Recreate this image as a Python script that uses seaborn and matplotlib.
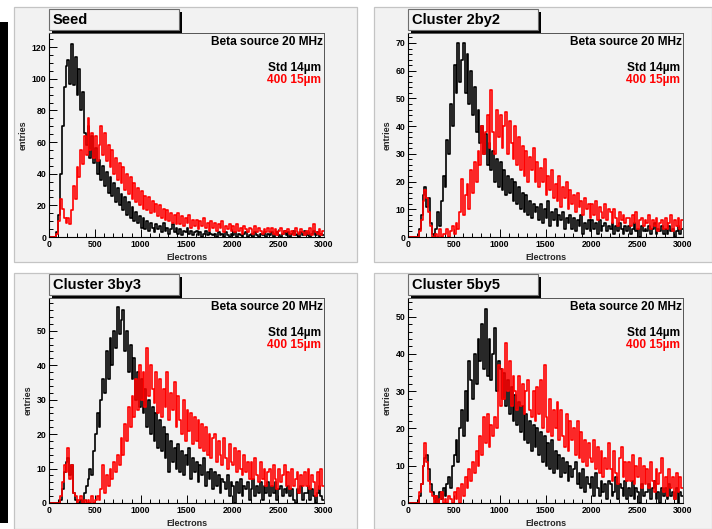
import numpy as np
import pandas as pd
import matplotlib
matplotlib.use("Agg")
import matplotlib.pyplot as plt
from matplotlib.patches import Rectangle
from matplotlib.ticker import MultipleLocator
import seaborn as sns

# ---------------- data (entries per 20-electron bin, 0..3000) ----------------
bin_width = 20
x_max = 3000

seed_std = [
    0, 0, 0, 0, 3, 14, 40, 70, 95, 108,
    112, 97, 122, 96, 114, 90, 106, 80, 92, 66,
    58, 70, 50, 64, 47, 56, 40, 49, 36, 45,
    32, 41, 28, 38, 26, 34, 22, 31, 20, 27,
    17, 25, 14, 22, 12, 19, 10, 16, 9, 13,
    6, 12, 5, 10, 4, 9, 6, 3, 8, 5,
    7, 3, 9, 4, 6, 2, 5, 8, 3, 6,
    2, 5, 1, 4, 3, 6, 2, 4, 1, 3,
    4, 1, 3, 0, 2, 4, 1, 3, 2, 1,
    2, 0, 3, 1, 2, 0, 3, 1, 0, 2,
    1, 3, 0, 2, 1, 0, 2, 3, 0, 1,
    2, 0, 3, 1, 0, 2, 1, 3, 0, 2,
    1, 3, 0, 2, 3, 1, 0, 2, 4, 1,
    3, 0, 2, 4, 1, 2, 0, 3, 1, 4,
    1, 3, 0, 2, 4, 1, 3, 0, 2, 1,
]
seed_400 = [
    0, 0, 0, 0, 2, 10, 24, 18, 12, 9,
    12, 8, 17, 32, 24, 44, 38, 55, 46, 64,
    52, 75, 55, 66, 50, 64, 48, 58, 70, 52,
    66, 48, 58, 44, 55, 40, 50, 36, 47, 34,
    44, 30, 40, 27, 38, 24, 34, 22, 31, 20,
    29, 18, 26, 17, 25, 15, 23, 16, 21, 13,
    20, 12, 18, 11, 17, 10, 15, 9, 14, 8,
    15, 8, 13, 7, 12, 9, 14, 6, 11, 7,
    11, 5, 10, 7, 12, 6, 9, 4, 10, 6,
    9, 4, 8, 6, 10, 3, 7, 5, 8, 4,
    7, 3, 8, 4, 6, 2, 7, 5, 3, 6,
    5, 2, 7, 3, 6, 4, 2, 5, 3, 6,
    3, 6, 2, 5, 1, 4, 6, 2, 4, 3,
    5, 2, 4, 1, 6, 3, 2, 5, 3, 1,
    4, 2, 6, 1, 8, 3, 2, 5, 1, 4,
]
c2_std = [
    0, 0, 0, 0, 0, 0, 3, 8, 15, 18,
    11, 14, 5, 1, 0, 3, 9, 4, 13, 22,
    18, 35, 30, 48, 40, 62, 52, 70, 56, 64,
    70, 52, 66, 48, 60, 44, 54, 38, 46, 34,
    40, 30, 37, 26, 34, 24, 31, 20, 28, 18,
    27, 17, 24, 15, 22, 16, 21, 13, 20, 12,
    18, 10, 16, 9, 15, 8, 13, 7, 12, 9,
    11, 6, 12, 5, 10, 7, 13, 4, 9, 6,
    10, 4, 8, 6, 9, 3, 7, 5, 8, 3,
    7, 2, 6, 4, 8, 1, 5, 3, 6, 2,
    6, 3, 5, 1, 6, 2, 4, 5, 2, 4,
    3, 5, 1, 4, 2, 5, 3, 1, 4, 2,
    4, 1, 3, 5, 2, 3, 0, 4, 2, 3,
    2, 4, 1, 3, 5, 1, 3, 2, 4, 1,
    3, 1, 4, 2, 3, 0, 2, 4, 1, 3,
]
c2_400 = [
    0, 0, 0, 0, 0, 0, 2, 6, 13, 17,
    14, 9, 4, 0, 0, 1, 0, 3, 0, 1,
    1, 3, 0, 2, 4, 1, 5, 3, 9, 21,
    8, 15, 19, 10, 24, 16, 27, 20, 31, 26,
    40, 30, 38, 44, 32, 53, 38, 30, 46, 36,
    44, 32, 40, 45, 30, 42, 34, 28, 40, 26,
    36, 24, 33, 22, 31, 20, 29, 24, 32, 20,
    27, 18, 25, 20, 28, 15, 22, 17, 24, 14,
    19, 13, 22, 11, 18, 14, 20, 10, 17, 12,
    15, 9, 16, 11, 13, 8, 14, 10, 12, 7,
    12, 8, 13, 6, 11, 9, 7, 12, 6, 10,
    9, 5, 10, 7, 4, 9, 6, 8, 5, 7,
    7, 4, 8, 5, 9, 3, 6, 7, 4, 6,
    5, 8, 3, 6, 4, 7, 2, 5, 6, 3,
    7, 3, 5, 8, 2, 6, 4, 7, 3, 6,
]
c3_std = [
    0, 0, 0, 0, 0, 0, 1, 4, 9, 12,
    13, 8, 11, 3, 1, 0, 0, 1, 0, 3,
    5, 7, 10, 8, 15, 20, 26, 22, 30, 36,
    32, 44, 36, 48, 40, 50, 45, 57, 49, 53,
    56, 44, 50, 38, 46, 36, 42, 30, 38, 28,
    36, 26, 33, 22, 30, 20, 28, 18, 26, 16,
    24, 15, 22, 13, 20, 9, 18, 12, 16, 10,
    17, 9, 15, 8, 14, 11, 16, 7, 13, 9,
    12, 6, 11, 8, 13, 5, 9, 7, 10, 4,
    9, 5, 8, 3, 7, 6, 4, 8, 2, 6,
    5, 0, 6, 3, 7, 2, 5, 4, 6, 1,
    4, 7, 2, 5, 3, 6, 1, 5, 3, 6,
    2, 5, 3, 6, 1, 4, 5, 2, 4, 3,
    5, 2, 4, 1, 0, 4, 3, 5, 1, 3,
    3, 5, 1, 4, 2, 0, 3, 5, 2, 1,
]
c3_400 = [
    0, 0, 0, 0, 0, 0, 2, 6, 11, 9,
    16, 7, 11, 3, 2, 0, 1, 2, 0, 1,
    0, 1, 0, 2, 0, 1, 2, 1, 4, 11,
    3, 8, 5, 10, 7, 12, 9, 14, 11, 19,
    14, 23, 18, 28, 22, 31, 25, 36, 27, 40,
    30, 38, 28, 45, 31, 40, 33, 29, 38, 26,
    36, 25, 33, 28, 38, 24, 32, 27, 35, 22,
    31, 24, 20, 30, 18, 27, 21, 26, 17, 25,
    18, 24, 16, 23, 15, 22, 14, 20, 13, 19,
    20, 12, 18, 14, 11, 19, 13, 10, 17, 12,
    11, 16, 9, 15, 10, 8, 14, 9, 12, 7,
    12, 7, 13, 8, 6, 12, 7, 10, 5, 9,
    10, 5, 11, 7, 4, 10, 6, 8, 11, 5,
    9, 4, 10, 5, 7, 9, 3, 8, 5, 9,
    5, 10, 4, 8, 6, 2, 9, 4, 10, 5,
]
c5_std = [
    0, 0, 0, 0, 0, 0, 2, 5, 10, 12,
    13, 9, 5, 3, 1, 2, 0, 3, 1, 4,
    2, 5, 7, 4, 10, 13, 17, 11, 20, 25,
    18, 30, 22, 38, 33, 28, 40, 32, 44, 38,
    48, 36, 52, 34, 44, 33, 40, 47, 30, 38,
    36, 28, 35, 26, 33, 24, 31, 22, 29, 21,
    27, 19, 26, 17, 24, 16, 22, 14, 21, 15,
    20, 13, 19, 11, 18, 10, 16, 9, 17, 8,
    14, 9, 13, 7, 12, 8, 11, 6, 10, 7,
    9, 11, 5, 8, 4, 9, 3, 7, 5, 4,
    7, 2, 8, 4, 2, 6, 3, 5, 1, 6,
    5, 2, 3, 7, 1, 5, 4, 2, 6, 1,
    4, 2, 6, 1, 4, 3, 0, 5, 2, 3,
    3, 5, 1, 4, 6, 1, 3, 0, 4, 2,
    4, 1, 5, 2, 3, 1, 4, 0, 3, 2,
]
c5_400 = [
    0, 0, 0, 0, 0, 0, 3, 5, 10, 16,
    11, 6, 3, 2, 0, 2, 0, 1, 3, 0,
    1, 0, 2, 1, 0, 3, 1, 4, 0, 5,
    2, 7, 4, 9, 6, 11, 8, 14, 10, 18,
    13, 23, 16, 24, 15, 21, 18, 23, 20, 37,
    26, 36, 28, 43, 30, 38, 26, 34, 30, 25,
    34, 26, 32, 24, 30, 33, 25, 23, 30, 22,
    31, 24, 33, 20, 37, 23, 19, 28, 18, 25,
    20, 27, 17, 25, 18, 15, 24, 14, 22, 17,
    20, 13, 22, 12, 19, 11, 17, 10, 16, 12,
    11, 17, 9, 15, 8, 14, 7, 12, 9, 16,
    9, 6, 14, 8, 5, 12, 15, 7, 11, 6,
    11, 6, 13, 5, 10, 7, 12, 4, 10, 5,
    9, 4, 11, 6, 3, 9, 5, 8, 12, 3,
    7, 2, 9, 4, 7, 1, 8, 3, 7, 4,
]

panel_titles = ["Seed", "Cluster 2by2", "Cluster 3by3", "Cluster 5by5"]
series_names = ["Std 14\u00b5m", "400 15\u00b5m"]
info_text = "Beta source 20 MHz"
x_label = "Electrons"
y_label = "entries"

# ---------------- styling ----------------
sns.set_theme(style="white")
plt.rcParams["font.family"] = ["Liberation Sans", "DejaVu Sans"]
plt.rcParams["font.weight"] = "bold"

W, H = 712, 529
fig = plt.figure(figsize=(W / 100, H / 100), dpi=100)
fig.patch.set_facecolor("white")
PAD = "#f2f2f2"

def fx(x):
    return x / W

def fy(y):
    return 1 - y / H

def frect(x0, y0, x1, y1, **kw):
    r = Rectangle((fx(x0), fy(y1)), fx(x1) - fx(x0), fy(y0) - fy(y1),
                  transform=fig.transFigure, **kw)
    fig.patches.append(r)
    return r

# black bar at the left edge
frect(0, 22, 8, 523, facecolor="black", edgecolor="none", zorder=-2)

panels = [
    dict(pad=(14, 7, 357, 262), ax=(49, 33, 324, 237), ylim=129, major=20, minor=5,
         data=(seed_std, seed_400), title=panel_titles[0]),
    dict(pad=(374, 7, 712, 262), ax=(408, 33, 683, 237), ylim=73.6, major=10, minor=2,
         data=(c2_std, c2_400), title=panel_titles[1]),
    dict(pad=(14, 273, 357, 529), ax=(49, 298, 324, 503), ylim=59.5, major=10, minor=2,
         data=(c3_std, c3_400), title=panel_titles[2]),
    dict(pad=(374, 273, 712, 529), ax=(408, 298, 683, 503), ylim=55, major=10, minor=2,
         data=(c5_std, c5_400), title=panel_titles[3]),
]

edges = np.arange(0, x_max + bin_width, bin_width)
centers = edges[:-1] + bin_width / 2

for p in panels:
    x0, y0, x1, y1 = p["pad"]
    frect(x0, y0, x1, y1, facecolor=PAD, edgecolor="#c4c4c4", linewidth=0.9, zorder=-1)

    ax0, ay0, ax1, ay1 = p["ax"]
    ax = fig.add_axes([fx(ax0), fy(ay1), fx(ax1) - fx(ax0), fy(ay0) - fy(ay1)])
    ax.set_zorder(1)
    ax.set_facecolor(PAD)

    for vals, col in zip(p["data"], ["black", "red"]):
        df = pd.DataFrame({"electrons": centers, "entries": np.asarray(vals, float)})
        sns.histplot(data=df, x="electrons", weights="entries", binwidth=bin_width,
                     binrange=(0, x_max), element="step", fill=False,
                     color=col, linewidth=1.2, ax=ax)

    ax.set_xlim(0, x_max)
    ax.set_ylim(0, p["ylim"])
    ax.xaxis.set_major_locator(MultipleLocator(500))
    ax.xaxis.set_minor_locator(MultipleLocator(100))
    ax.yaxis.set_major_locator(MultipleLocator(p["major"]))
    ax.yaxis.set_minor_locator(MultipleLocator(p["minor"]))
    ax.tick_params(which="both", direction="in", bottom=True, left=True, top=False,
                   right=False, colors="black", labelsize=6.3, pad=2)
    ax.tick_params(which="major", length=6, width=0.7)
    ax.tick_params(which="minor", length=3, width=0.7)
    for lab in ax.get_xticklabels() + ax.get_yticklabels():
        lab.set_fontweight("bold")
    for s in ["left", "bottom"]:
        ax.spines[s].set_color("black")
        ax.spines[s].set_linewidth(0.8)
    for s in ["top", "right"]:
        ax.spines[s].set_color("#555555")
        ax.spines[s].set_linewidth(0.7)
    ax.set_xlabel(x_label, fontsize=6.5, fontweight="bold", labelpad=3)
    ax.set_ylabel(y_label, fontsize=6.5, fontweight="bold", labelpad=3)
    ax.grid(False)

    # texts inside the frame
    ax.text(0.997, 0.955, info_text, transform=ax.transAxes, ha="right", va="center",
            fontsize=8.6, fontweight="bold", color="black")
    ax.text(0.99, 0.828, series_names[0], transform=ax.transAxes, ha="right", va="center",
            fontsize=8.6, fontweight="bold", color="black")
    ax.text(0.99, 0.77, series_names[1], transform=ax.transAxes, ha="right", va="center",
            fontsize=8.6, fontweight="bold", color="red")

    # title box with shadow
    tx0, ty0 = ax0, ay0 - 24
    frect(tx0 + 3, ty0 + 3, tx0 + 133, ty0 + 24, facecolor="black", edgecolor="none", zorder=3)
    frect(tx0, ty0, tx0 + 130, ty0 + 21, facecolor=PAD, edgecolor="#6e6e6e",
          linewidth=0.8, zorder=4)
    fig.text(fx(tx0 + 4), fy(ty0 + 11), p["title"], ha="left", va="center",
             fontsize=10.5, fontweight="bold", color="black", zorder=5)

fig.savefig("out.png", dpi=100, facecolor="white")
